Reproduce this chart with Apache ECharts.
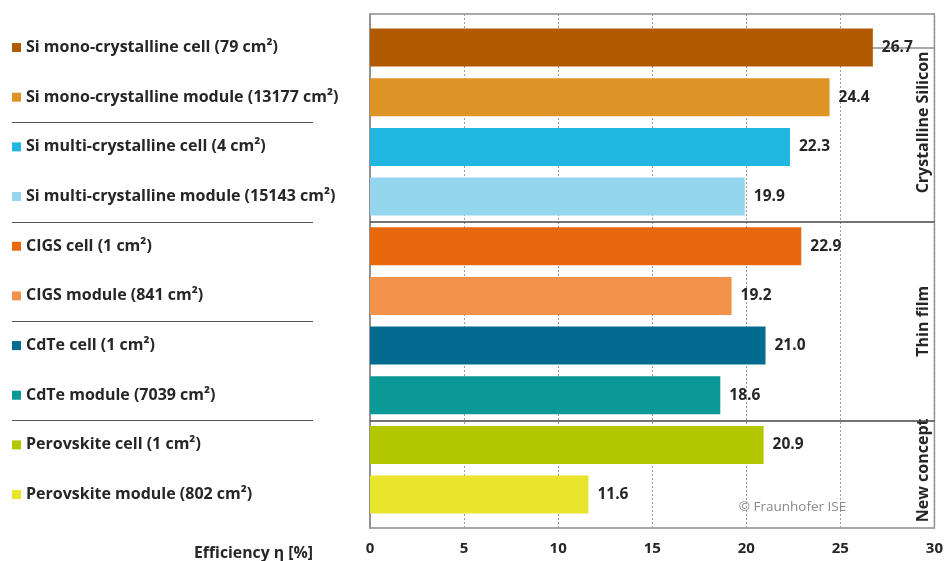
<!DOCTYPE html>
<html>
<head>
<meta charset="utf-8">
<script src="https://cdn.jsdelivr.net/npm/echarts@6/dist/echarts.min.js"></script>
<style>
  html, body { margin: 0; padding: 0; background: #ffffff; }
  #chart { width: 946px; height: 561px; }
</style>
</head>
<body>
<div id="chart"></div>
<script>
// Record efficiencies of PV cells and modules
const categories = [
  'Si mono-crystalline cell (79 cm²)',
  'Si mono-crystalline module (13177 cm²)',
  'Si multi-crystalline cell (4 cm²)',
  'Si multi-crystalline module (15143 cm²)',
  'CIGS cell (1 cm²)',
  'CIGS module (841 cm²)',
  'CdTe cell (1 cm²)',
  'CdTe module (7039 cm²)',
  'Perovskite cell (1 cm²)',
  'Perovskite module (802 cm²)'
];
const efficiency = [26.7, 24.4, 22.3, 19.9, 22.9, 19.2, 21.0, 18.6, 20.9, 11.6];
const barColors = [
  '#B15A00', '#DD9424', '#22B7E0', '#93D6ED', '#E8680E',
  '#F2924B', '#036A90', '#0C9896', '#B3C700', '#E9E42C'
];
// technology groups: [label, first category index, last category index]
const groupNames = ['Crystalline Silicon', 'Thin film', 'New concept'];
const groupStart = [0, 4, 8];
const groupEnd = [3, 7, 9];
// left-hand separators after these category indices
const labelDividersAfter = [1, 3, 5, 7];
const xTicks = [0, 5, 10, 15, 20, 25, 30];

const FONT = '"Open Sans", "Noto Sans", sans-serif';
const TEXT = '#262626';
const FRAME = '#8c8c8c';

// frame y-scale in category units (extends slightly beyond the bar band)
const frameMin = -0.68, frameMax = 9.66;

const rich = {};
barColors.forEach((c, i) => {
  rich['s' + i] = { width: 9, height: 9, backgroundColor: c };
});
rich.t = { fontFamily: FONT, fontWeight: 'bold', fontSize: 16, color: TEXT, padding: [0, 0, 0, 5] };

const chart = echarts.init(document.getElementById('chart'), null, { renderer: 'canvas' });

const option = {
  backgroundColor: '#ffffff',
  animation: false,
  title: {
    text: 'Efficiency η [%]',
    left: 189, top: 540,
    textStyle: { fontFamily: FONT, fontWeight: 'bold', fontSize: 15.8, color: TEXT }
  },
  grid: [
    // bars
    { left: 370, right: 11, top: 22.7, bottom: 561 - 519.4 },
    // plot frame, value axis and separators
    { left: 370, right: 11, top: 14, bottom: 33, show: true, borderColor: FRAME, borderWidth: 1.5 },
    // separators beside the category labels
    { left: 12, width: 301, top: 14, bottom: 33 }
  ],
  xAxis: [
    { gridIndex: 0, type: 'value', min: 0, max: 30, show: false },
    {
      gridIndex: 1, type: 'value', min: xTicks[0], max: xTicks[xTicks.length - 1], interval: 5,
      axisLine: { show: true, lineStyle: { color: FRAME, width: 1.5 } },
      axisTick: { show: true, length: 4, lineStyle: { color: FRAME } },
      axisLabel: { margin: 13, fontFamily: FONT, fontWeight: 'bold', fontSize: 15, color: TEXT },
      splitLine: { show: true, lineStyle: { color: '#9a9a9a', type: [2, 2], width: 1 } }
    },
    { gridIndex: 2, type: 'value', min: 0, max: 1, show: false }
  ],
  yAxis: [
    {
      gridIndex: 0, type: 'category', inverse: true, data: categories,
      axisLine: { show: false }, axisTick: { show: false },
      axisLabel: {
        align: 'left', margin: 358, interval: 0,
        formatter: (v, i) => '{s' + i + '|}{t|' + v + '}',
        rich: rich
      }
    },
    {
      gridIndex: 1, type: 'value', inverse: true, min: frameMin, max: frameMax,
      axisLine: { show: true, lineStyle: { color: FRAME, width: 1.5 } },
      axisTick: { show: false }, axisLabel: { show: false }, splitLine: { show: false }
    },
    {
      gridIndex: 2, type: 'value', inverse: true, min: frameMin, max: frameMax, show: false
    }
  ],
  series: [
    {
      type: 'bar', xAxisIndex: 0, yAxisIndex: 0,
      barWidth: 38,
      data: efficiency.map((v, i) => ({ value: v, itemStyle: { color: barColors[i] } })),
      label: {
        show: true, position: 'right', distance: 9,
        formatter: p => p.value.toFixed(1),
        fontFamily: FONT, fontWeight: 'bold', fontSize: 15.5, color: TEXT
      }
    },
    {
      type: 'line', xAxisIndex: 1, yAxisIndex: 1, data: [],
      markLine: {
        silent: true, symbol: 'none', label: { show: false },
        lineStyle: { color: '#444', type: 'solid', width: 1.5 },
        data: groupEnd.slice(0, -1).map(e => ({ yAxis: e + 0.5 }))
      }
    },
    {
      type: 'line', xAxisIndex: 2, yAxisIndex: 2, data: [],
      markLine: {
        silent: true, symbol: 'none', label: { show: false },
        lineStyle: { color: '#555', type: 'solid', width: 1.2 },
        data: labelDividersAfter.map(e => ({ yAxis: e + 0.5 }))
      }
    }
  ]
};

chart.setOption(option);

// group captions along the right edge and the copyright note
const rightX = chart.convertToPixel({ xAxisIndex: 1 }, xTicks[xTicks.length - 1]);
const graphics = groupNames.map((name, g) => {
  const a = Math.max(frameMin, groupStart[g] - 0.5);
  const b = Math.min(frameMax, groupEnd[g] + 0.5);
  const y = (chart.convertToPixel({ yAxisIndex: 1 }, a) + chart.convertToPixel({ yAxisIndex: 1 }, b)) / 2;
  return {
    type: 'text', x: rightX - 3, y: y, rotation: Math.PI / 2,
    style: {
      text: name, align: 'center', verticalAlign: 'bottom',
      font: 'bold 16px ' + FONT, fill: TEXT
    }
  };
});
graphics.push({
  type: 'text', x: chart.convertToPixel({ xAxisIndex: 1 }, 19.6),
  y: chart.convertToPixel({ yAxisIndex: 1 }, 9.25),
  style: {
    text: '© Fraunhofer ISE', align: 'left', verticalAlign: 'middle',
    font: '13.5px ' + FONT, fill: '#8a8a8a'
  }
});
chart.setOption({ graphic: graphics });
</script>
</body>
</html>
